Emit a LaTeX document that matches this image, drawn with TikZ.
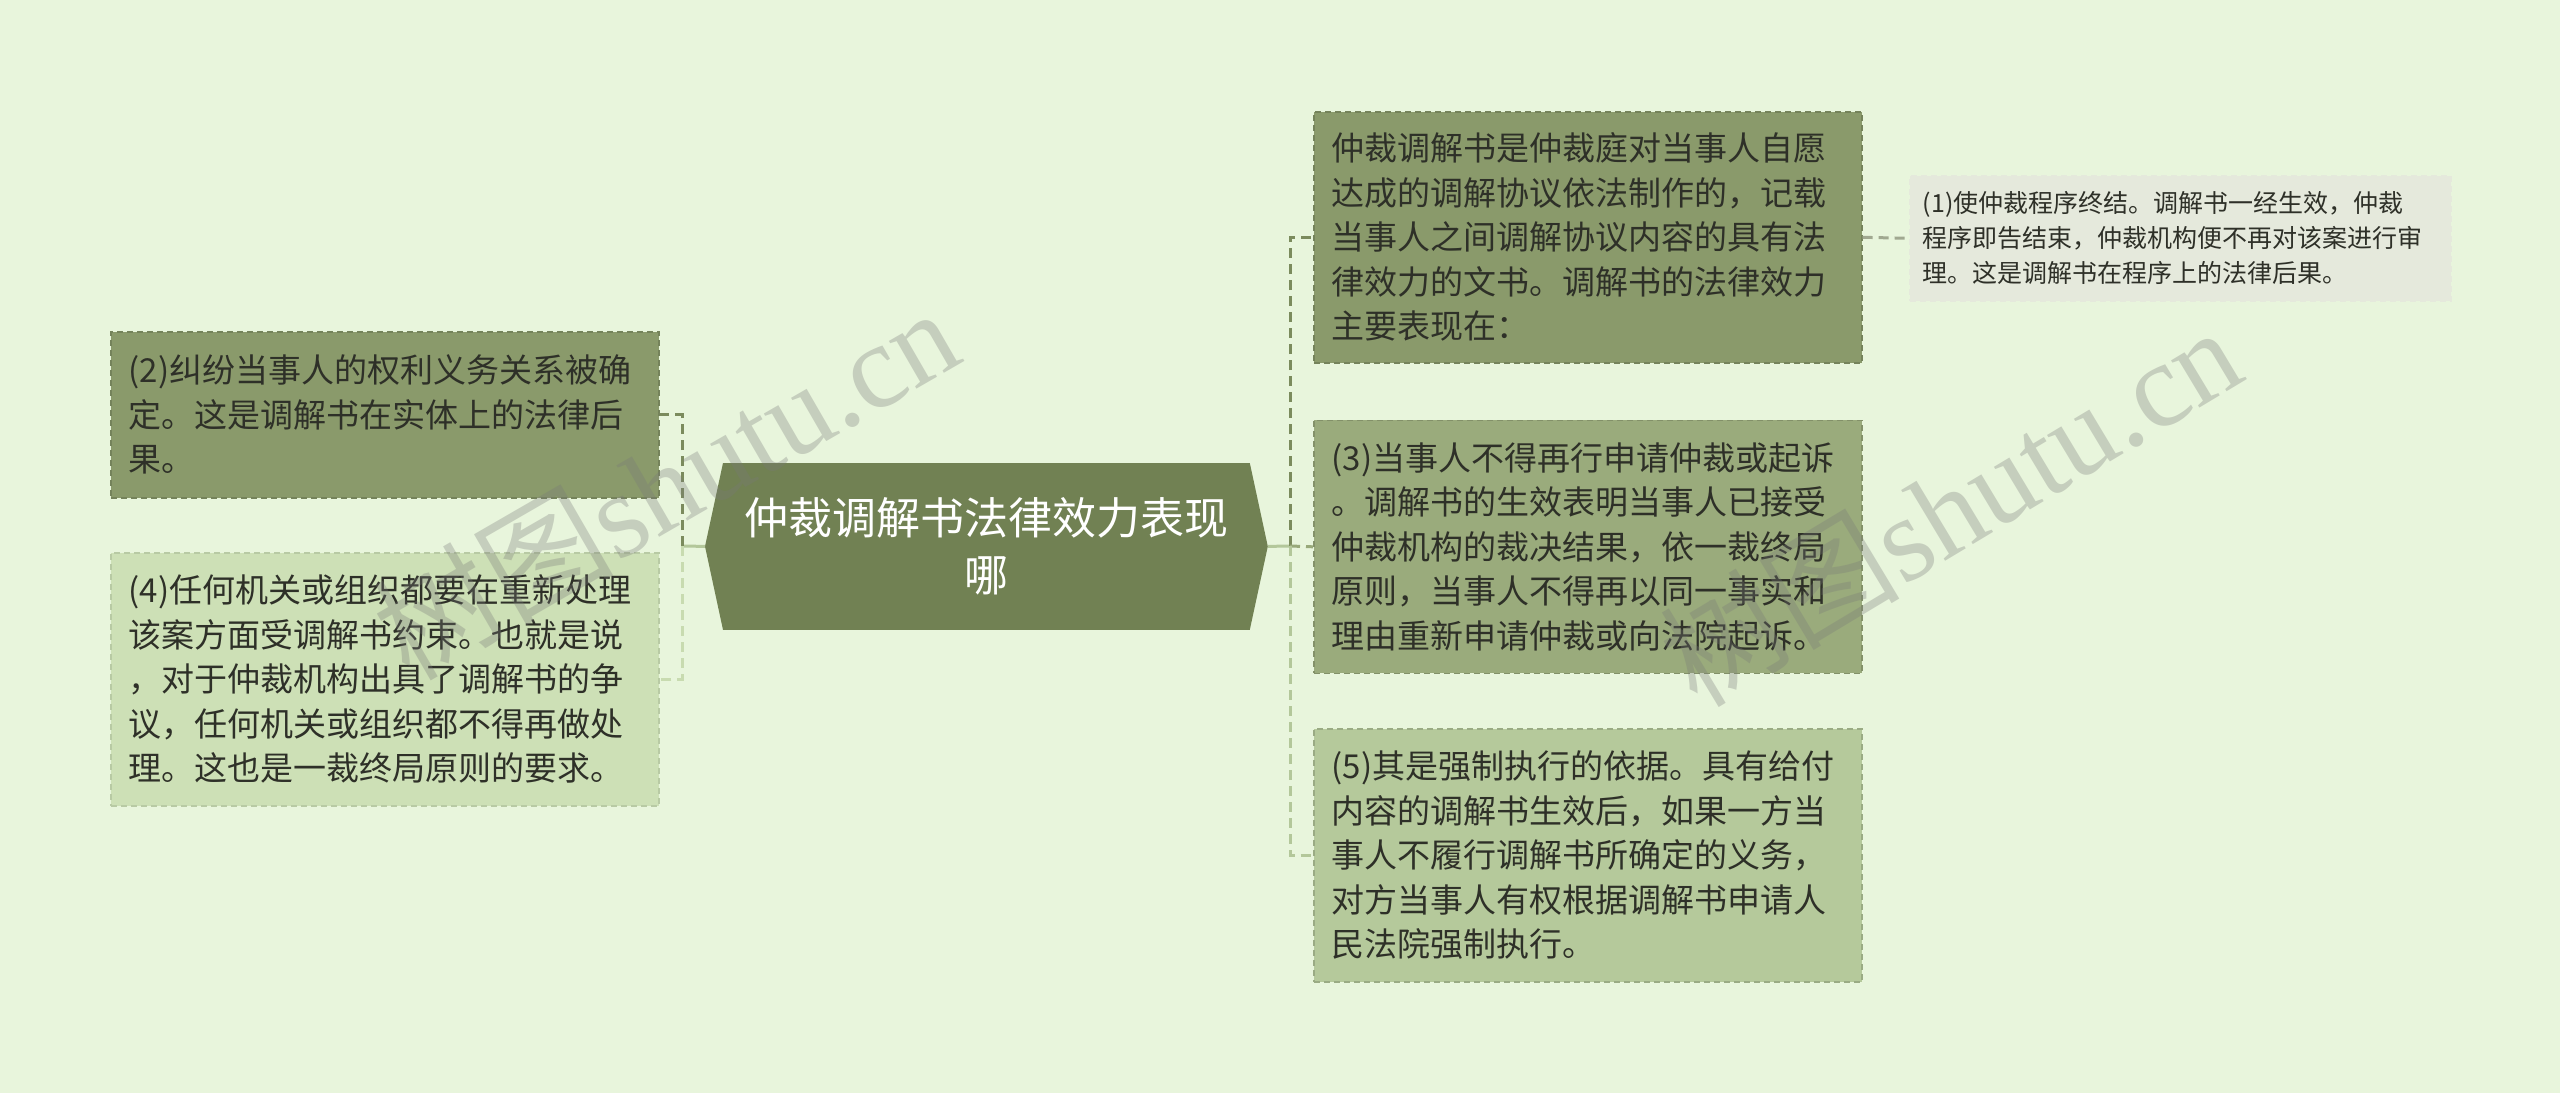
\documentclass[tikz,border=0pt]{standalone}
\usepackage{fontspec}
\setmainfont{Noto Sans CJK SC}
\newfontfamily\wmfont{Liberation Serif}
\newfontfamily\cjkfont{Noto Sans CJK SC}
\usetikzlibrary{backgrounds}
\definecolor{bgc}{HTML}{E8F5DC}
\definecolor{croot}{HTML}{718153}
\definecolor{cA}{HTML}{8A9A6B}
\definecolor{cB}{HTML}{9AAB7C}
\definecolor{cC}{HTML}{B5C99B}
\definecolor{cD}{HTML}{CDE0B6}
\definecolor{cE}{HTML}{E5E9DC}
\definecolor{ink}{HTML}{2E3028}
\definecolor{lnA}{HTML}{7B8B5D}
\definecolor{lnB}{HTML}{98A97A}
\definecolor{lnC}{HTML}{B3C79A}
\definecolor{lnD}{HTML}{C8DBB0}
\definecolor{lnE}{HTML}{A0A890}
\tikzset{
  box/.style={anchor=north west, align=left, text=ink, inner xsep=9pt, inner ysep=0pt,
    text width=256pt, font=\fontsize{16.5}{22.25}\selectfont,
    draw, dashed, line width=0.8pt, dash pattern=on 3pt off 2pt},
  conn/.style={line width=1.5pt, dash pattern=on 5pt off 3pt},
  stub/.style={line width=1.5pt, lnC}
}
\begin{document}
\begin{tikzpicture}[x=0.5pt,y=-0.5pt]
\begin{scope}[on background layer]
\fill[bgc] (0,0) rectangle (2560,1093);
\end{scope}
\useasboundingbox (0,0) rectangle (2560,1093);

% root
\node[anchor=north west, minimum width=281pt, minimum height=83pt, inner sep=0pt,
  text=white, align=center, text width=270pt, font=\fontsize{22}{28.5}\selectfont]
  (root) at (705,463) {仲裁调解书法律效力表现\\哪};
\begin{scope}[on background layer]
\fill[croot] (root.west) -- ([xshift=9pt]root.north west) -- ([xshift=-9pt]root.north east)
  -- (root.east) -- ([xshift=-9pt]root.south east) -- ([xshift=9pt]root.south west) -- cycle;
\end{scope}

% right boxes
\node[box, fill=cA, draw=cA!85!black, minimum height=125.5pt] (nA) at (1313,111)
{仲裁调解书是仲裁庭对当事人自愿\\达成的调解协议依法制作的，记载\\当事人之间调解协议内容的具有法\\律效力的文书。调解书的法律效力\\主要表现在：};
\node[box, fill=cB, draw=cB!85!black, minimum height=126.5pt] (n3) at (1313,419.5)
{(3)当事人不得再行申请仲裁或起诉\\。调解书的生效表明当事人已接受\\仲裁机构的裁决结果，依一裁终局\\原则，当事人不得再以同一事实和\\理由重新申请仲裁或向法院起诉。};
\node[box, fill=cC, draw=cC!85!black, minimum height=126.5pt] (n5) at (1313,728)
{(5)其是强制执行的依据。具有给付\\内容的调解书生效后，如果一方当\\事人不履行调解书所确定的义务，\\对方当事人有权根据调解书申请人\\民法院强制执行。};
\node[box, fill=cE, draw=cE, inner xsep=6.5pt, text width=257.5pt, minimum height=62.5pt,
  font=\fontsize{12.5}{17.5}\selectfont] (n1) at (1909,175)
{(1)使仲裁程序终结。调解书一经生效，仲裁\\程序即告结束，仲裁机构便不再对该案进行审\\理。这是调解书在程序上的法律后果。};

% left boxes
\node[box, fill=cA, draw=cA!85!black, minimum height=83pt] (n2) at (110,331)
{(2)纠纷当事人的权利义务关系被确\\定。这是调解书在实体上的法律后\\果。};
\node[box, fill=cD, draw=cD!90!black, minimum height=126.5pt] (n4) at (110,552)
{(4)任何机关或组织都要在重新处理\\该案方面受调解书约束。也就是说\\，对于仲裁机构出具了调解书的争\\议，任何机关或组织都不得再做处\\理。这也是一裁终局原则的要求。};

% connectors
\coordinate (jl) at (682,546);
\coordinate (jr) at (1290,546);
\draw[stub] (root.west) -- (jl);
\draw[stub] (root.east) -- (jr);
\draw[conn, lnA] (jl) |- (n2.east);
\draw[conn, lnD] (jl) |- (n4.east);
\draw[conn, lnA] (jr) |- (nA.west);
\draw[conn, lnB] (jr) -- (n3.west);
\draw[conn, lnC] (jr) |- (n5.west);
\draw[conn, lnE] (nA.east) -- (n1.west);

% watermark
\node[rotate=30, text=black!53, opacity=0.31, font=\fontsize{60}{60}\selectfont] (wm1) at (665,482)
  {{\cjkfont 树图}{\wmfont shutu.cn}};
\node[rotate=31, text=black!53, opacity=0.31, font=\fontsize{60}{60}\selectfont] (wm2) at (1950,505)
  {{\cjkfont 树图}{\wmfont shutu.cn}};
\end{tikzpicture}
\end{document}
